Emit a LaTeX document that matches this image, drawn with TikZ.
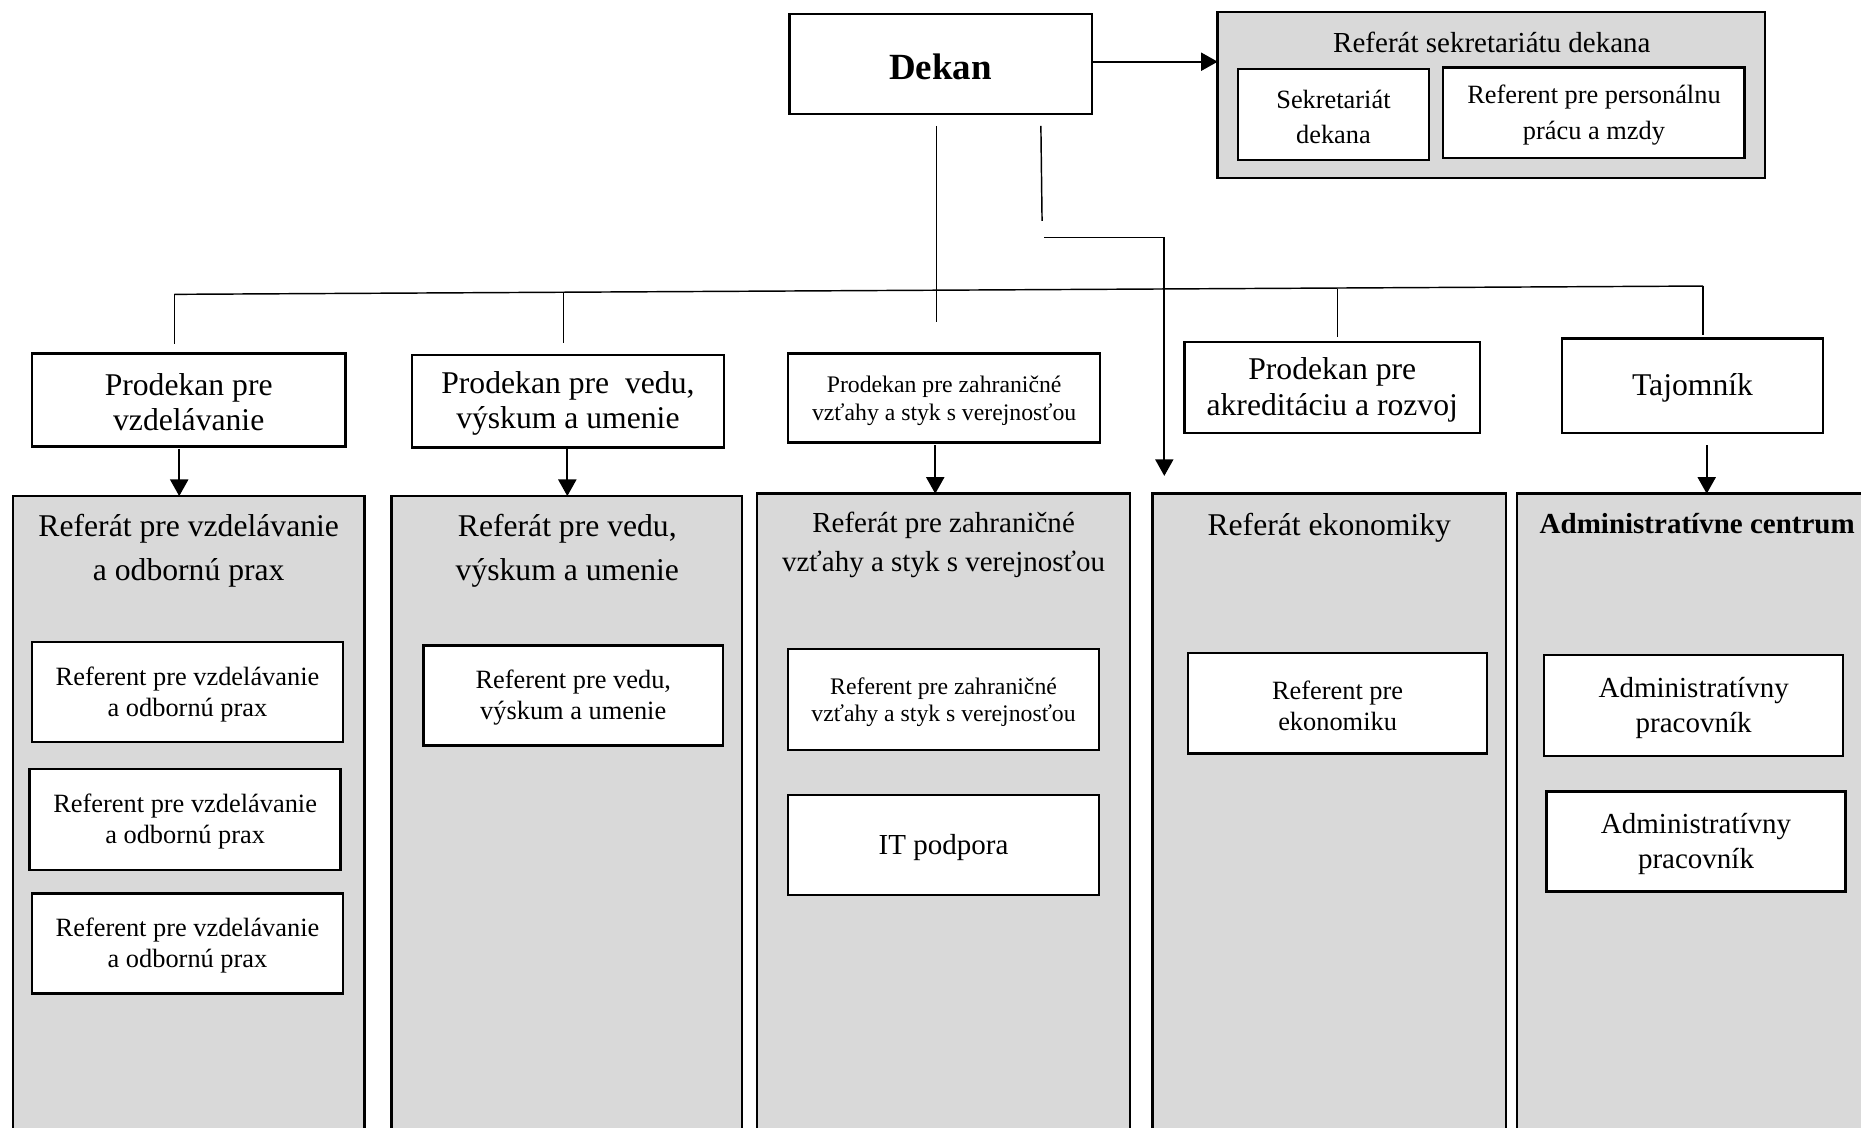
\documentclass[tikz,border=0pt]{standalone}
\usepackage{fontspec}
\setmainfont{Liberation Serif}
\usetikzlibrary{arrows.meta}
\definecolor{gfill}{HTML}{D9D9D9}
\newcommand\bx[7]{\node[#2, minimum width={(#5-#3)*0.45pt}, minimum height={(#6-#4)*0.45pt}] (#1) at ({(#3+#5)/2},{(#4+#6)/2}) {};
  \node[#2, draw=none, fill=none] (#1t) at ([yshift=-0.9pt]#1.center) {#7};}
\tikzset{
  box/.style={draw, line width=0.95pt, fill=white, inner sep=0pt, outer sep=0pt, align=center},
  gbox/.style={draw, line width=0.95pt, fill=gfill, inner sep=0pt, outer sep=0pt},
  ttl/.style={inner sep=0pt, align=center},
  thinline/.style={line width=0.55pt},
  arr/.style={line width=0.85pt, -{Triangle[width=6.8pt,length=6.3pt]}},
  fA/.style={font=\fontsize{12}{13.5}\selectfont},
  fT/.style={font=\fontsize{12}{16.6}\selectfont},
  fS/.style={font=\fontsize{10}{11.7}\selectfont},
  fSS/.style={font=\fontsize{9}{10.4}\selectfont},
}
\begin{document}
\begin{tikzpicture}[x=0.45pt, y=-0.45pt]
\clip (0,0) rectangle (1568,950);
\fill[white] (0,0) rectangle (1568,950);
% top
\bx{dekan}{box,font=\bfseries\fontsize{14}{16}\selectfont}{665}{12}{920}{96}{Dekan}
\bx{rsd}{gbox}{1026}{10}{1487}{150}{}
\node[ttl,font=\fontsize{11}{13}\selectfont] (rsdt) at (1257,36) {Referát sekretariátu dekana};
\bx{sd}{box,font=\fontsize{10}{13.5}\selectfont}{1043}{58}{1204}{135}{Sekretariát\\dekana}
\bx{rppm}{box,font=\fontsize{10}{13.5}\selectfont}{1216}{57}{1470}{133}{Referent pre personálnu\\prácu a mzdy}
\coordinate (d1) at (920,52);
\draw[arr] (d1) -- (d1 -| rsd.west);
% lines from dekan
\coordinate (v1a) at (789,106); \coordinate (v1b) at (789,271);
\draw[thinline] (v1a) -- (v1b);
\coordinate (v2a) at (877,106); \coordinate (v2b) at (878,186);
\draw[thinline] (v2a) -- (v2b);
\coordinate (c1) at (880,200); \coordinate (c2) at (981,200); \coordinate (c3) at (981,401);
\draw[line width=0.65pt] (c1) -- (c2);
\draw[arr] (c2) -- (c3);
% bus
\coordinate (b1) at (147,248); \coordinate (b2) at (1435,241);
\draw[thinline] (b1) -- (b2);
\coordinate (p1) at (147,290); \draw[thinline] (b1) -- (p1);
\coordinate (q2a) at (475,246.5); \coordinate (p2) at (475,289); \draw[thinline] (q2a) -- (p2);
\coordinate (q4a) at (1127,243.4); \coordinate (p4) at (1127,284); \draw[thinline] (q4a) -- (p4);
\coordinate (p5) at (1435,282); \draw[thinline] (b2) -- (p5);
% prodekani
\bx{pv}{box,fA}{27}{298}{291}{376}{Prodekan pre\\vzdelávanie}
\bx{pved}{box,fA}{347}{299}{610}{377}{Prodekan pre\ \ vedu,\\výskum a umenie}
\bx{pz}{box,font=\fontsize{9}{10.8}\selectfont}{664}{298}{927}{373}{Prodekan pre zahraničné\\vzťahy a styk s verejnosťou}
\bx{pa}{box,fA}{998}{288}{1247}{365}{Prodekan pre\\akreditáciu a rozvoj}
\bx{taj}{box,fA}{1316}{285}{1536}{365}{Tajomník}
% columns
\bx{col1}{gbox}{11}{418}{307}{970}{}
\bx{col2}{gbox}{330}{418}{625}{970}{}
\bx{col3}{gbox}{638}{416}{952}{970}{}
\bx{col4}{gbox}{971}{416}{1269}{970}{}
\bx{col5}{gbox}{1278}{416}{1600}{970}{}
\node[ttl,fT] (t1) at (159,464) {Referát pre vzdelávanie\\a odbornú prax};
\node[ttl,fT] (t2) at (478,464) {Referát pre vedu,\\výskum a umenie};
\node[ttl,font=\fontsize{11}{14.85}\selectfont] (t3) at (795,459) {Referát pre zahraničné\\vzťahy a styk s verejnosťou};
\node[ttl,fT] (t4) at (1120,445) {Referát ekonomiky};
\node[ttl,font=\bfseries\fontsize{11}{13}\selectfont] (t5) at (1430,441) {Administratívne centrum};
% arrows prodekan -> columns
\coordinate (a1) at (151,378); \draw[arr] (a1) -- (a1 |- col1.north);
\coordinate (a2) at (478,378); \draw[arr] (a2) -- (a2 |- col2.north);
\coordinate (a3) at (788,375); \draw[arr] (a3) -- (a3 |- col3.north);
\coordinate (a5) at (1438,375); \draw[arr] (a5) -- (a5 |- col5.north);
% sub boxes
\bx{r11}{box,fS}{27}{541}{289}{625}{Referent pre vzdelávanie\\a odbornú prax}
\bx{r12}{box,fS}{25}{648}{287}{733}{Referent pre vzdelávanie\\a odbornú prax}
\bx{r13}{box,fS}{27}{753}{289}{837}{Referent pre vzdelávanie\\a odbornú prax}
\bx{r21}{box,fS}{357}{544}{609}{628}{Referent pre vedu,\\výskum a umenie}
\bx{r31}{box,fSS}{664}{547}{926}{632}{Referent pre zahraničné\\vzťahy a styk s verejnosťou}
\bx{r32}{box,font=\fontsize{11}{13}\selectfont}{664}{670}{926}{754}{IT podpora}
\bx{r41}{box,fS}{1001}{550}{1253}{635}{Referent pre\\ekonomiku}
\bx{r51}{box,font=\fontsize{11}{13.1}\selectfont}{1301}{552}{1553}{637}{Administratívny\\pracovník}
\bx{r52}{box,font=\fontsize{11}{13.1}\selectfont}{1303}{667}{1555}{751}{Administratívny\\pracovník}
\end{tikzpicture}
\end{document}
